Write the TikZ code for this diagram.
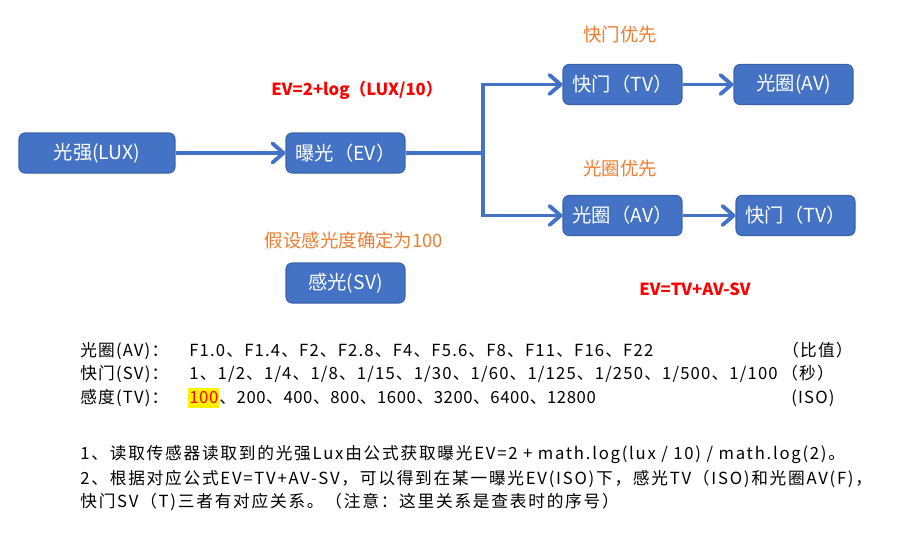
\documentclass[tikz,border=0pt]{standalone}
\usepackage{fontspec}
\setmainfont{Noto Sans CJK SC}
\newfontfamily\tabfont[LetterSpace=7]{Noto Sans CJK SC}
\newfontfamily\isofont[LetterSpace=3.5]{Noto Sans CJK SC}
\newfontfamily\notefont[LetterSpace=10.5]{Noto Sans CJK SC}
\usepackage{tikz}
\usetikzlibrary{arrows.meta, positioning}
\usepackage{xcolor}
\definecolor{boxblue}{HTML}{4472C4}
\definecolor{boxedge}{HTML}{3A62AC}
\definecolor{hintorange}{HTML}{ED7D31}
\newcommand{\marked}[1]{{\setlength\fboxsep{0.6pt}\colorbox{yellow}{\rule[-0.22em]{0pt}{1.05em}\textcolor{red}{#1}}}}

\begin{document}
\begin{tikzpicture}[
x=0.02cm, y=-0.02cm,
box/.style={rectangle, rounded corners=0.12cm, draw=boxedge, line width=0.6pt, fill=boxblue,
  text=white, font=\fontsize{11}{13}\selectfont, minimum width=2.38cm, minimum height=0.8cm, inner sep=0pt},
arrow/.style={-{Straight Barb[length=0.22cm, width=0.38cm, round]}, draw=boxblue, line width=2.2pt},
hint/.style={text=hintorange, font=\fontsize{10.5}{12}\selectfont, inner sep=0pt},
formula/.style={text=red, font=\fontsize{9.5}{11}\selectfont\bfseries, inner sep=0pt},
tabline/.style={anchor=base west, font=\tabfont\fontsize{9.5}{11}\selectfont, inner sep=0pt},
noteline/.style={tabline, font=\notefont\fontsize{9.5}{11}\selectfont}
]
\useasboundingbox (0,0) rectangle (919,542);

% boxes
\node[box, minimum width=3.12cm] (lux) at (97,153) {光强(LUX)};
\node[box] (ev) at (345.5,153) {曝光（EV）};
\node[box] (sv) at (345.5,283) {感光(SV)};
\node[box] (tvA) at (622.5,84.5) {快门（TV）};
\node[box] (avA) at (793.5,84.5) {光圈(AV)};
\node[box] (avB) at (622.5,215.5) {光圈（AV）};
\node[box] (tvB) at (795.5,215.5) {快门（TV）};

% labels
\node[formula] (evform) at (357,90) {EV=2+log（LUX/10）};
\node[hint] (svhint) at (354,240) {假设感光度确定为100};
\node[hint] (tvfirst) at (620,35) {快门优先};
\node[hint] (avfirst) at (620,169) {光圈优先};
\node[formula] (evsum) at (695,289) {EV=TV+AV-SV};

% connectors
\coordinate (split) at (483,153);
\draw[arrow] (lux) -- (ev);
\draw[arrow, -] (ev) -- (split);
\draw[arrow] (split) |- (tvA);
\draw[arrow] (split) |- (avB);
\draw[arrow] (tvA) -- (avA);
\draw[arrow] (avB) -- (tvB);

% table
\node[tabline] (rowav) at (80,356) {光圈(AV)：};
\node[tabline] (rowsv) at (80,379) {快门(SV)：};
\node[tabline] (rowtv) at (80,403) {感度(TV)：};
\node[tabline] (valav) at (189,356) {F1.0、F1.4、F2、F2.8、F4、F5.6、F8、F11、F16、F22};
\node[tabline] (valsv) at (189,379) {1、1/2、1/4、1/8、1/15、1/30、1/60、1/125、1/250、1/500、1/100};
\node[tabline, font=\isofont\fontsize{9.5}{11}\selectfont] (valtv) at (188,403) {\marked{100}、200、400、800、1600、3200、6400、12800};
\node[tabline] (unitav) at (782,356) {（比值）};
\node[tabline] (unitsv) at (781,379) {（秒）};
\node[tabline] (unittv) at (791,403) {(ISO)};

% notes
\node[noteline] (note1) at (80,459) {1、读取传感器读取到的光强Lux由公式获取曝光EV=2 + math.log(lux / 10) / math.log(2)。};
\node[noteline] (note2) at (80,484) {2、根据对应公式EV=TV+AV-SV，可以得到在某一曝光EV(ISO)下，感光TV（ISO)和光圈AV(F)，};
\node[noteline] (note3) at (80,507) {快门SV（T)三者有对应关系。（注意：这里关系是查表时的序号）};

\end{tikzpicture}
\end{document}
